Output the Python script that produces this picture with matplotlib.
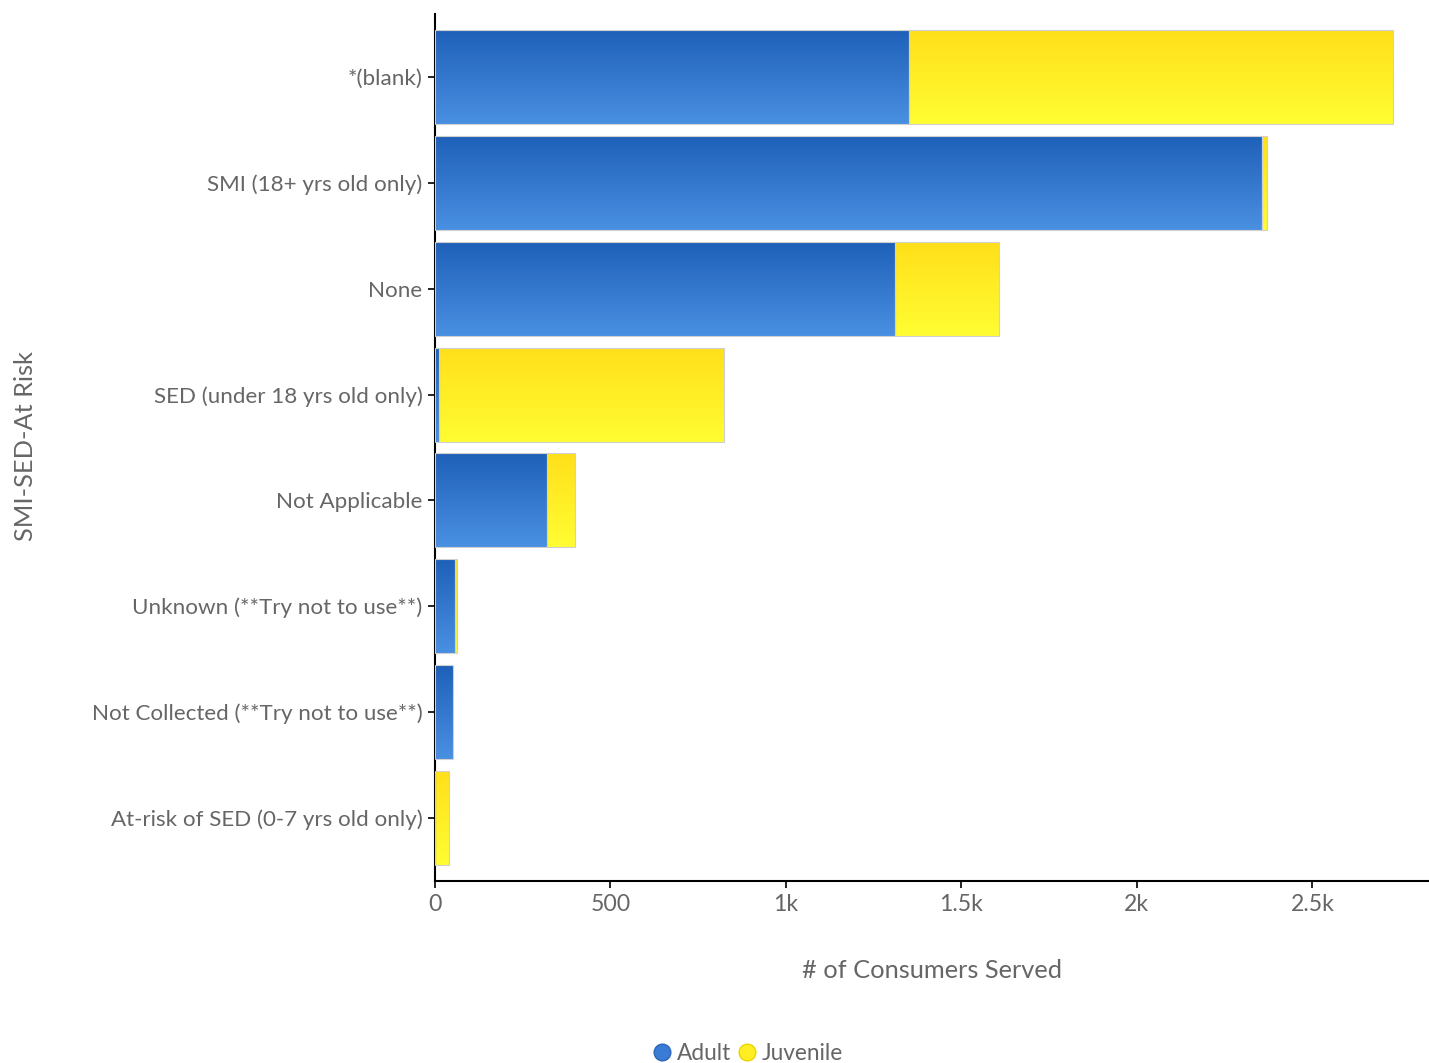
"""Recreate the SMI-SED-At Risk stacked horizontal bar chart."""

import matplotlib

matplotlib.use("Agg")
import matplotlib.pyplot as plt
import numpy as np
from matplotlib.colors import LinearSegmentedColormap
from matplotlib.lines import Line2D

plt.rcParams["font.family"] = ["Lato", "DejaVu Sans"]

TEXT = "#666666"

categories = [
    "*(blank)",
    "SMI (18+ yrs old only)",
    "None",
    "SED (under 18 yrs old only)",
    "Not Applicable",
    "Unknown (**Try not to use**)",
    "Not Collected (**Try not to use**)",
    "At-risk of SED (0-7 yrs old only)",
]
adult = [1351, 2357, 1311, 11, 319, 57, 51, 0]
juvenile = [1379, 14, 296, 813, 80, 5, 0, 40]

x_ticks = [0, 500, 1000, 1500, 2000, 2500]
x_tick_labels = ["0", "500", "1k", "1.5k", "2k", "2.5k"]

# gradient colour pairs (top -> bottom of each bar)
BLUE_TOP, BLUE_BOT = "#1E60B8", "#4A90E2"
YEL_TOP, YEL_BOT = "#FFDF1A", "#FFFD33"

fig = plt.figure(figsize=(14.29, 10.63), dpi=100)
ax = fig.add_axes([0.3044, 0.171, 0.695, 0.816])

y = np.arange(len(categories))
h = 0.89
bars_a = ax.barh(y, adult, height=h, color="none", edgecolor="none")
bars_j = ax.barh(y, juvenile, height=h, left=adult, color="none", edgecolor="none")

grad = np.linspace(0, 1, 256).reshape(-1, 1)


def fill_gradient(bars, top, bot):
    cmap = LinearSegmentedColormap.from_list("g", [top, bot])
    for bar in bars:
        w = bar.get_width()
        if w <= 0:
            continue
        x0, y0 = bar.get_x(), bar.get_y()
        # inverted y axis: y0 is visually the top edge
        im = ax.imshow(
            grad,
            cmap=cmap,
            aspect="auto",
            extent=[x0, x0 + w, y0 + bar.get_height(), y0],
            zorder=2,
            interpolation="bilinear",
        )
        im.set_clip_path(bar)
        bar.set_edgecolor("#D0D0D0")
        bar.set_linewidth(0.8)
        bar.set_zorder(3)


ax.set_xlim(0, 2830)
ax.set_ylim(len(categories) - 0.4, -0.6)

fill_gradient(bars_a, BLUE_TOP, BLUE_BOT)
fill_gradient(bars_j, YEL_TOP, YEL_BOT)

ax.set_yticks(y)
ax.set_yticklabels(categories, fontsize=16.1, color=TEXT)
ax.set_xticks(x_ticks)
ax.set_xticklabels(x_tick_labels, fontsize=16.6, color=TEXT)
ax.tick_params(axis="both", length=5, width=1.2, color="black", pad=4)

for side in ["top", "right"]:
    ax.spines[side].set_visible(False)
for side in ["left", "bottom"]:
    ax.spines[side].set_color("black")
    ax.spines[side].set_linewidth(1.5)

ax.set_xlabel("# of Consumers Served", fontsize=18.3, color=TEXT, labelpad=32)
fig.text(0.018, 0.58, "SMI-SED-At Risk", rotation=90, fontsize=18.3, color=TEXT,
         ha="center", va="center")

handles = [
    Line2D([], [], marker="o", linestyle="none", markersize=12,
           markerfacecolor="#3A7BD5", markeredgecolor="#2A65B8"),
    Line2D([], [], marker="o", linestyle="none", markersize=12,
           markerfacecolor="#FFEE22", markeredgecolor="#E8D400"),
]
fig.legend(handles, ["Adult", "Juvenile"], loc="center", bbox_to_anchor=(0.522, 0.009),
           ncol=2, frameon=False, fontsize=16.3, labelcolor=TEXT,
           handletextpad=0.05, columnspacing=0.1, borderaxespad=0,
           handlelength=1.2)

fig.savefig("out.png", dpi=100, facecolor="white")
